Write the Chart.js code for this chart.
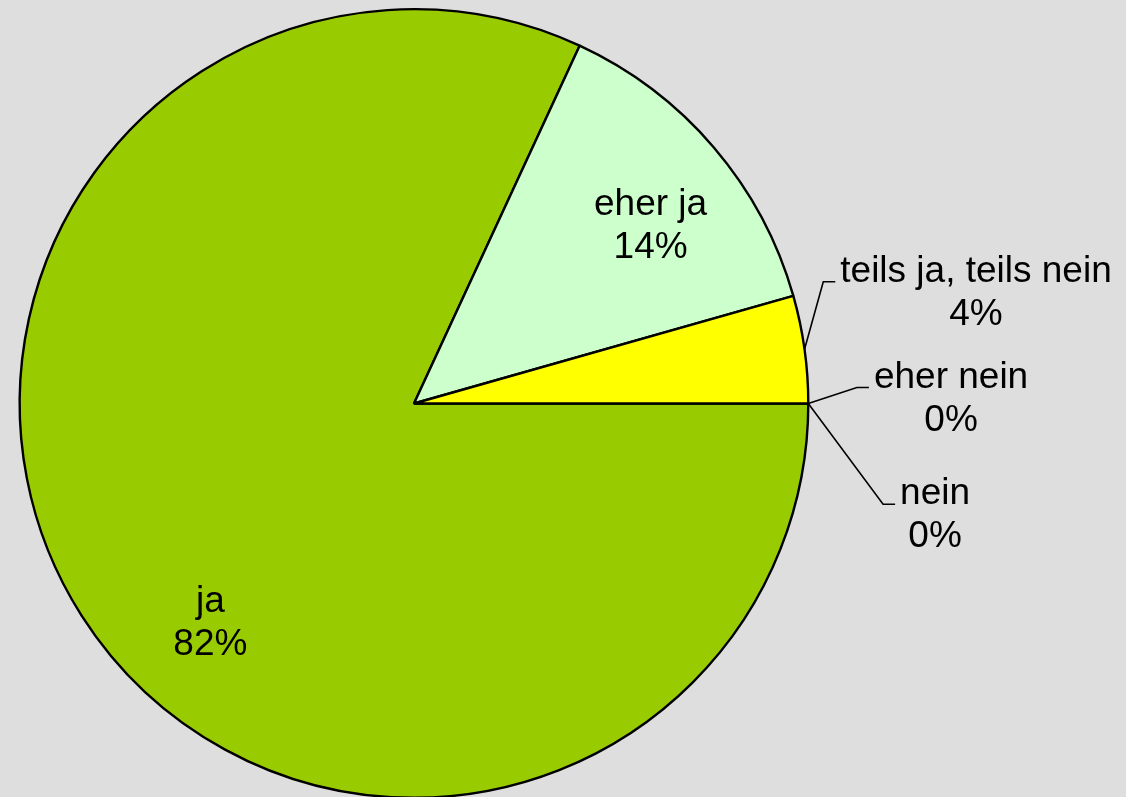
<!DOCTYPE html>
<html>
<head>
<meta charset="utf-8">
<script src="https://cdn.jsdelivr.net/npm/chart.js@4"></script>
<style>
  html, body { margin: 0; padding: 0; overflow: hidden; background: #DEDEDE; }
  #wrap { width: 1126px; height: 810px; }
</style>
</head>
<body>
<div id="wrap"><canvas id="myChart"></canvas></div>
<script>
// answer categories and shares (percent)
const categories = ['ja', 'eher ja', 'teils ja, teils nein', 'eher nein', 'nein'];
const shares = [81.9, 13.7, 4.4, 0, 0];
const sliceColors = ['#99CC00', '#CCFFCC', '#FFFF00', '#FFFFFF', '#CCCCCC'];

// label anchors (first baseline) relative to pie centre, in pixels at r=395
const labelAnchors = [
  { dx: -204, dy: 209, leader: false },
  { dx: 237, dy: -189, leader: false },
  { dx: 563, dy: -122, leader: true },
  { dx: 538, dy: -16, leader: true },
  { dx: 522, dy: 101, leader: true }
];

const ctx = document.getElementById('myChart').getContext('2d');

const pieLabelsPlugin = {
  id: 'pieLabels',
  afterDatasetsDraw: (chart) => {
    const c = chart.ctx;
    const meta = chart.getDatasetMeta(0);
    const total = shares.reduce((a, b) => a + b, 0);
    c.save();
    c.font = '37px "Liberation Sans", Arial, sans-serif';
    c.fillStyle = '#000';
    c.strokeStyle = '#000';
    c.lineWidth = 1.6;
    c.textAlign = 'center';
    c.textBaseline = 'alphabetic';
    meta.data.forEach((arc, i) => {
      const { x, y, startAngle, endAngle, outerRadius } = arc.getProps(['x', 'y', 'startAngle', 'endAngle', 'outerRadius'], true);
      const scale = outerRadius / 395;
      const a = labelAnchors[i];
      const lx = x + a.dx * scale;
      const ly = y + a.dy * scale;
      const line1 = categories[i];
      const line2 = Math.round(shares[i] / total * 100) + '%';
      if (a.leader) {
        const mid = (startAngle + endAngle) / 2;
        const sx = x + Math.cos(mid) * outerRadius;
        const sy = y + Math.sin(mid) * outerRadius;
        const left = lx - c.measureText(line1).width / 2 - 5;
        c.beginPath();
        c.moveTo(sx, sy);
        c.lineTo(left - 12, ly);
        c.lineTo(left, ly);
        c.stroke();
      }
      c.fillText(line1, lx, ly);
      c.fillText(line2, lx, ly + 43);
    });
    c.restore();
  }
};

const chart = new Chart(ctx, {
  type: 'pie',
  data: {
    labels: categories,
    datasets: [{
      data: shares,
      backgroundColor: sliceColors,
      borderColor: '#000000',
      borderWidth: 2.4,
      hoverOffset: 0
    }]
  },
  options: {
    responsive: true,
    maintainAspectRatio: false,
    animation: false,
    rotation: 90,
    layout: { padding: { left: 18, right: 316, top: 8, bottom: 11 } },
    plugins: {
      legend: { display: false },
      tooltip: { enabled: false }
    },
    events: []
  },
  plugins: [pieLabelsPlugin]
});
</script>
</body>
</html>
